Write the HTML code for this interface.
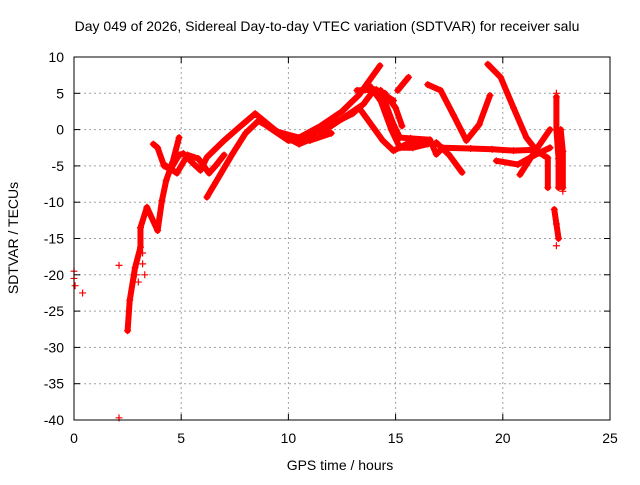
<!DOCTYPE html>
<html><head><meta charset="utf-8"><style>
body{margin:0;background:#fff;width:640px;height:480px;overflow:hidden}
text{font-family:"Liberation Sans",sans-serif;font-size:14px;fill:#000}
</style></head><body>
<svg id="chart" width="640" height="480" xmlns="http://www.w3.org/2000/svg">
<rect width="640" height="480" fill="#fff"/>
<text x="327" y="31" text-anchor="middle">Day 049 of 2026, Sidereal Day-to-day VTEC variation (SDTVAR) for receiver salu</text>
<text x="340" y="470" text-anchor="middle">GPS time / hours</text>
<text transform="translate(18,238) rotate(-90)" text-anchor="middle">SDTVAR / TECUs</text>
<g id="grid"></g>
<g id="ticks"></g>
<g id="marks"></g>
<rect x="74" y="57" width="536" height="363" fill="none" stroke="#000" stroke-width="1"/>
</svg>
<script>
const xTicks=[0,5,10,15,20,25];
const yTicks=[10,5,0,-5,-10,-15,-20,-25,-30,-35,-40];
const isolatedPoints=[[0,-19.5],[0,-20.5],[0.05,-21.5],[0.4,-22.5],[2.1,-18.7],[2.1,-39.7],[3.2,-17],[3.3,-20],[3.2,-18.5],[3.0,-21],[2.9,-20],[22.5,-16],[22.8,-8.5],[22.5,5]];
const track1=[[2.5,-27.7],[2.6,-23.5],[2.85,-19],[3.1,-16.2],[3.1,-13.5],[3.4,-10.7],[3.9,-13.9],[4.1,-9.8],[4.3,-7],[4.6,-4.5],[4.9,-1.1]];
const track2=[[3.7,-2],[3.9,-2.5],[4.2,-5],[4.5,-5.5],[4.9,-3.5],[5.1,-3.3],[5.5,-4.5],[5.9,-5.6],[6.2,-3.8],[7.0,-1.5],[7.7,0.3],[8.45,2.2],[9.6,-0.6],[10.5,-2],[11.3,-1]];
const track3=[[6.2,-9.3],[7.4,-3.3],[8.0,-0.5],[8.6,1.2],[9.5,-0.3],[10.5,-1.1],[11.5,0],[12.2,1],[13.0,2.2],[13.3,3],[14.4,-1.5],[14.9,-2.9],[15.5,-2],[16.0,-1.5],[16.6,-1.5]];
const track4=[[10.5,-1.1],[11.5,0.5],[12.5,2.5],[13.3,4.8],[14.27,8.8]];
const track5=[[13.2,5.4],[14.1,5.5],[14.9,4]];
const track6=[[14.3,5.4],[14.9,0.7],[15.2,-1.1],[15.7,-1.2],[16.6,-1.4],[16.9,-3.4],[17.2,-2.5],[18.5,-2.6],[19.5,-2.7],[20.5,-2.9],[21.4,-2.8]];
const track7=[[15.1,5.4],[15.6,7.2]];
const track8=[[16.5,6.2],[17.1,5.4],[17.7,2],[18.3,-1.5],[18.9,0.7],[19.4,4.7]];
const track9=[[16.9,-1.8],[17.5,-3.5],[18.1,-5.9]];
const track10=[[19.3,9],[19.9,7.2],[20.5,3],[21.1,-1.1],[21.6,-3],[22.1,-3.9],[22.1,-8]];
const track11=[[19.7,-4.3],[20.7,-4.8],[21.5,-3.5],[22.2,-2.5]];
const track12=[[20.8,-6.2],[21.5,-3],[22.2,0]];
const track13=[[22.5,4.5],[22.5,0],[22.6,-4],[22.6,-8]];
const track14=[[22.7,0],[22.8,-3],[22.8,-8]];
const track15=[[22.4,-11],[22.5,-13],[22.6,-15]];
const track16=[[11.5,-0.5],[12.5,1.5],[13.5,3.5],[14,5.5],[14.5,5],[15,3],[15.3,0.5]];
const track17=[[13.8,6],[14.3,4],[14.8,0],[15.2,-2.5],[15.8,-2.5],[16.5,-2]];
const track18=[[4.3,-5],[4.8,-6],[5.3,-3.5],[5.8,-4],[6.3,-6],[6.6,-5],[7,-3.5]];
const track19=[[9.0,0.5],[10,-1.5],[11,-1.5],[12,-0.5]];
const tracks=[track1,track2,track3,track4,track5,track6,track7,track8,track9,track10,track11,track12,track13,track14,track15,track16,track17,track18,track19];
const X0=74,X1=610,Y0=420,Y1=57,XMIN=0,XMAX=25,YMIN=-40,YMAX=10;
const xs=v=>X0+(v-XMIN)/(XMAX-XMIN)*(X1-X0);
const ys=v=>Y0-(v-YMIN)/(YMAX-YMIN)*(Y0-Y1);
const NS="http://www.w3.org/2000/svg";
function mk(tag,attrs,parent){const e=document.createElementNS(NS,tag);for(const k in attrs)e.setAttribute(k,attrs[k]);parent.appendChild(e);return e;}
const grid=document.getElementById('grid'),ticks=document.getElementById('ticks'),marks=document.getElementById('marks');
xTicks.forEach(t=>{const x=xs(t);
 if(t>XMIN&&t<XMAX){const g=mk('line',{x1:x,x2:x,y1:Y1,y2:Y0,stroke:'#a0a0a0','stroke-dasharray':'2,3'},grid);
 
 }
 mk('line',{x1:x,x2:x,y1:Y0,y2:Y0-6,stroke:'#000'},ticks);mk('line',{x1:x,x2:x,y1:Y1,y2:Y1+6,stroke:'#000'},ticks);
 const l=mk('text',{x:x,y:Y0+23,'text-anchor':'middle'},ticks);l.textContent=t;
 
 });
yTicks.forEach(t=>{const y=ys(t);
 if(t>YMIN&&t<YMAX){const g=mk('line',{x1:X0,x2:X1,y1:y,y2:y,stroke:'#a0a0a0','stroke-dasharray':'2,3'},grid);
 
 }
 mk('line',{x1:X0,x2:X0+6,y1:y,y2:y,stroke:'#000'},ticks);mk('line',{x1:X1,x2:X1-6,y1:y,y2:y,stroke:'#000'},ticks);
 const l=mk('text',{x:X0-10,y:y+5,'text-anchor':'end'},ticks);l.textContent=t;
 
 });
function plus(h,v){const x=xs(h),y=ys(v);
 const p=mk('path',{d:`M${x-3.5},${y}H${x+3.5}M${x},${y-3.5}V${y+3.5}`,stroke:'#f00','stroke-width':1.2},marks);
 
 }
tracks.forEach(tr=>{
 const pl=mk('polyline',{points:tr.map(p=>xs(p[0])+','+ys(p[1])).join(' '),fill:'none',stroke:'#f00','stroke-width':6,'stroke-linejoin':'round','stroke-linecap':'round'},marks);
 
 
 tr.forEach(p=>plus(p[0],p[1]));});
isolatedPoints.forEach(p=>plus(p[0],p[1]));
</script>
</body></html>
